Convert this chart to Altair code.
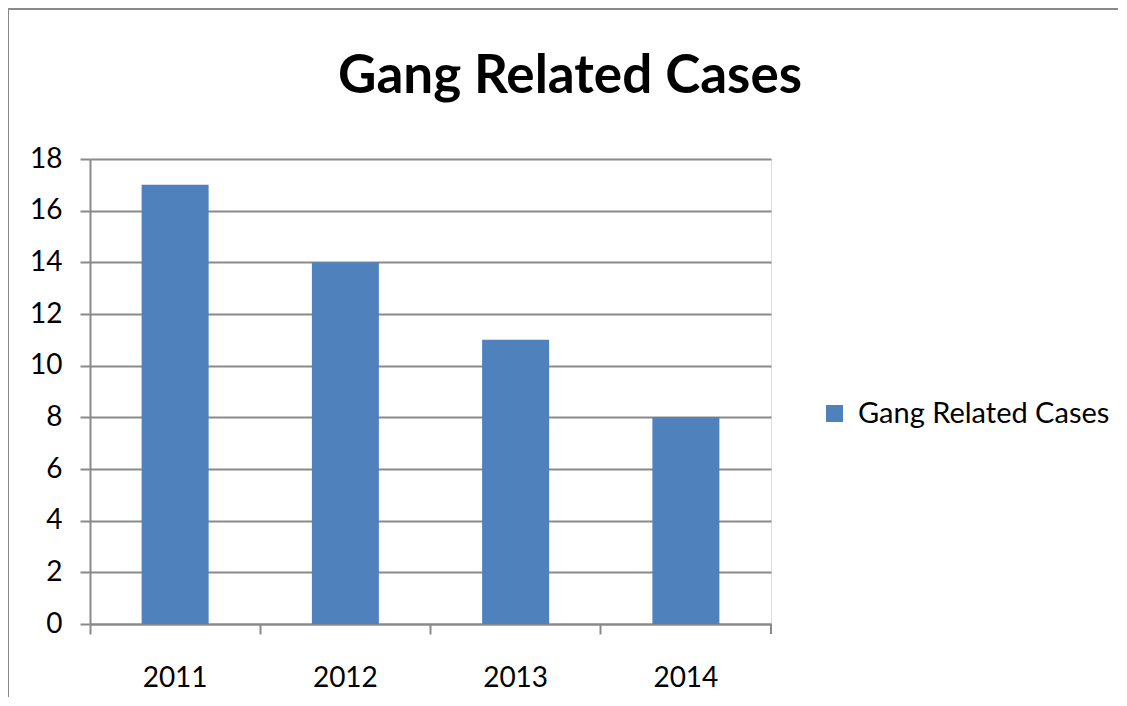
import altair as alt
import pandas as pd

years = ["2011", "2012", "2013", "2014"]
cases = [17, 14, 11, 8]
series = ["Gang Related Cases"] * 4
title_text = ["Gang Related Cases"]

df = pd.DataFrame({"year": years, "cases": cases, "series": series})
df_title = pd.DataFrame({"t": title_text})

GRAY = "#8a8a8a"
FONT = "Lato"
W, H = 681, 465

base = alt.Chart(df)

bars = base.mark_bar(size=67, color="#4F81BD").encode(
    x=alt.X("year:N", title=None,
            scale=alt.Scale(paddingInner=0, paddingOuter=0),
            axis=alt.Axis(bandPosition=0, labelAngle=0, grid=False,
                          tickSize=10, tickColor=GRAY, tickWidth=2,
                          domainColor=GRAY, domainWidth=2, labelPadding=30,
                          labelFontSize=28, labelFont=FONT, labelColor="black")),
    y=alt.Y("cases:Q", title=None,
            scale=alt.Scale(domain=[0, 18], nice=False),
            axis=alt.Axis(values=list(range(0, 19, 2)), tickSize=10, tickColor=GRAY,
                          tickWidth=2, gridColor=GRAY, gridWidth=2, domainColor=GRAY,
                          domainWidth=2, labelPadding=18, labelFontSize=28,
                          labelFont=FONT, labelColor="black")),
    color=alt.Color("series:N", title=None,
                    scale=alt.Scale(range=["#4F81BD"]),
                    legend=alt.Legend(orient="none", legendX=730, legendY=240,
                                      symbolType="square", symbolSize=290,
                                      symbolStrokeWidth=0, labelFontSize=29,
                                      labelFont=FONT, labelColor="black",
                                      labelOffset=9, labelLimit=500, padding=0)),
)

end_tick = base.mark_rule(color=GRAY, strokeWidth=2).encode(
    x=alt.value(W), y=alt.value(H), y2=alt.value(H + 10)
)

border = base.mark_rect(fill=None, stroke=GRAY, strokeWidth=2).encode(
    x=alt.value(-82), y=alt.value(-150), x2=alt.value(1200), y2=alt.value(800)
)

title = alt.Chart(df_title).mark_text(
    font=FONT, fontSize=53, fontWeight="bold", color="black",
    align="center", baseline="alphabetic"
).encode(x=alt.value(480), y=alt.value(-66), text="t:N")

chart = alt.layer(border, bars, end_tick, title).properties(
    width=W, height=H,
    padding={"left": 82, "top": 151, "right": 347, "bottom": 73},
    autosize=alt.AutoSizeParams(type="none"),
).configure_view(stroke=None).configure(background="white")

chart.save("out.html", embed_options={"renderer": "svg", "actions": False})
